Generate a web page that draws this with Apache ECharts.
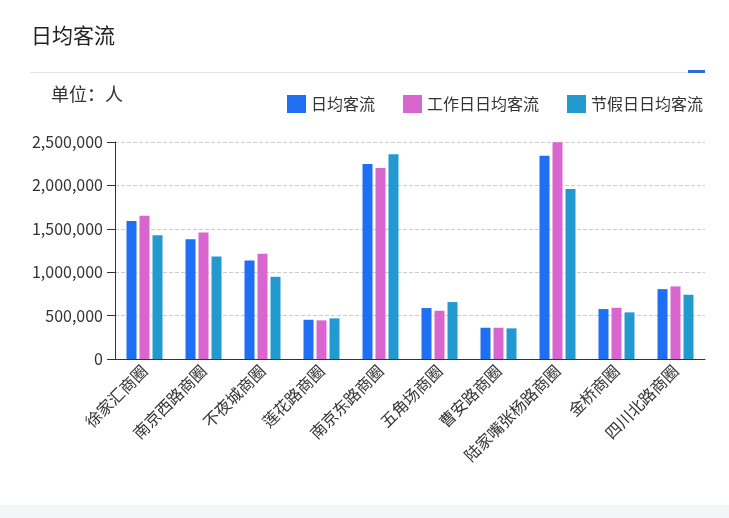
<!DOCTYPE html>
<html><head><meta charset="utf-8">
<script src="https://cdn.jsdelivr.net/npm/echarts@6/dist/echarts.min.js"></script>
<style>html,body{margin:0;padding:0;background:#fff;}#c{width:729px;height:518px;}</style>
</head><body><div id="c"></div>
<script>
const categories = ['徐家汇商圈','南京西路商圈','不夜城商圈','莲花路商圈','南京东路商圈','五角场商圈','曹安路商圈','陆家嘴张杨路商圈','金桥商圈','四川北路商圈'];
const dailyAvg   = [1591000,1380000,1135000,452000,2247000,587000,360000,2343000,575000,805000];
const workdayAvg = [1649000,1457000,1212000,445000,2201000,556000,360000,2496000,590000,836000];
const holidayAvg = [1426000,1181000,947000,468000,2358000,656000,353000,1959000,537000,740000];
const yTicks = [0,500000,1000000,1500000,2000000,2500000];

const font = '"Noto Sans CJK SC","Microsoft YaHei",sans-serif';
const chart = echarts.init(document.getElementById('c'));
chart.setOption({
  animation:false,
  textStyle:{fontFamily:font},
  graphic:[
    {type:'text',left:31,top:25,style:{text:'日均客流',font:'21px '+font,fill:'#222'}},
    {type:'rect',shape:{x:30,y:72,width:675,height:1},style:{fill:'#e3e3e3'}},
    {type:'rect',shape:{x:688,y:70,width:17,height:3},style:{fill:'#2a6fd6'}},
    {type:'text',left:51,top:85,style:{text:'单位：人',font:'18px '+font,fill:'#333'}},
    {type:'rect',shape:{x:0,y:505,width:729,height:13},style:{fill:'#f4f5f7'}}
  ],
  legend:{
    right:26, top:95, padding:0, itemWidth:19, itemHeight:18, itemGap:28, icon:'rect',
    textStyle:{fontSize:16,color:'#333',fontFamily:font},
    data:['日均客流','工作日日均客流','节假日日均客流']
  },
  grid:{left:115,right:24,top:142,bottom:159},
  xAxis:{
    type:'category', data:categories,
    axisLine:{lineStyle:{color:'#333'}},
    axisTick:{lineStyle:{color:'#333'},length:5},
    axisLabel:{rotate:45,fontSize:16,color:'#333',margin:9,interval:0}
  },
  yAxis:{
    type:'value', min:0, max:2500000, interval:500000,
    axisLine:{show:true,lineStyle:{color:'#333'}},
    axisTick:{show:true,length:8,lineStyle:{color:'#333'}},
    axisLabel:{fontSize:16,color:'#333',margin:12,formatter:v=>v.toLocaleString('en-US')},
    splitLine:{lineStyle:{type:'dashed',color:'#ccc'}}
  },
  series:[
    {name:'日均客流',type:'bar',data:dailyAvg,barWidth:10,barGap:'30%',itemStyle:{color:'#1f6ff5'}},
    {name:'工作日日均客流',type:'bar',data:workdayAvg,barWidth:10,barGap:'30%',itemStyle:{color:'#d966cf'}},
    {name:'节假日日均客流',type:'bar',data:holidayAvg,barWidth:10,barGap:'30%',itemStyle:{color:'#229ad0'}}
  ]
});
</script></body></html>
